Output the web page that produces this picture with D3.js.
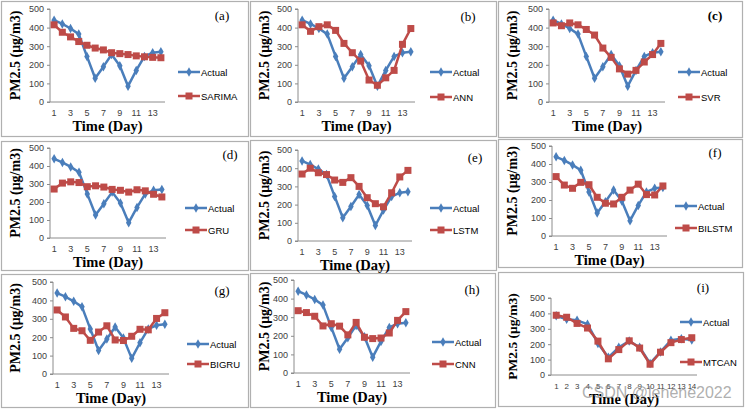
<!DOCTYPE html>
<html><head><meta charset="utf-8">
<script src="https://cdn.jsdelivr.net/npm/d3@7"></script>
<style>body{margin:0;background:#fff}svg{display:block}</style>
</head><body>
<svg id="c" width="750" height="410"></svg>
<script>
// ---- data ----
const days = [1,2,3,4,5,6,7,8,9,10,11,12,13,14];
const yTicks = [0,100,200,300,400,500];
const actual = [440,420,395,365,245,128,190,255,195,85,170,245,265,270];
const actualMTCAN = [385,362,355,330,205,115,180,220,180,75,150,225,235,228];
const sarima = [415,375,350,325,305,290,280,265,260,255,248,243,240,238];
const ann = [415,380,405,415,385,315,265,220,118,90,130,170,310,395];
const svr = [425,410,425,415,390,360,290,240,178,150,170,215,255,315];
const gru = [272,305,312,308,285,290,283,270,265,255,268,262,243,228];
const lstm = [368,400,375,365,335,322,348,300,238,205,188,265,352,388];
const bilstm = [330,283,265,298,285,215,182,178,215,255,288,230,228,278];
const bigru = [348,310,248,235,183,228,262,185,182,205,243,240,302,333];
const cnn = [335,325,305,253,265,252,205,272,192,185,188,215,283,330];
const mtcan = [388,375,335,305,220,105,165,222,175,70,148,210,230,242];
const panelLabels = ["(a)","(b)","(c)","(d)","(e)","(f)","(g)","(h)","(i)"];
const modelNames = ["SARIMA","ANN","SVR","GRU","LSTM","BILSTM","BIGRU","CNN","MTCAN"];
const modelSeries = [sarima,ann,svr,gru,lstm,bilstm,bigru,cnn,mtcan];
const actualSeries = [actual,actual,actual,actual,actual,actual,actual,actual,actualMTCAN];

// ---- layout (positions only) ----
const layout = [
  {box:[1,1,247,135],  x0:50,  x1:165, y0:102, y5:9,   lx:178, ly1:72,  ly2:96,  tx:222, ty:15},
  {box:[250,1,246,135],x0:298, x1:415, y0:102, y5:9,   lx:430, ly1:72,  ly2:97,  tx:468, ty:16},
  {box:[498,1,244,136],x0:549, x1:665, y0:102, y5:9,   lx:678, ly1:72,  ly2:97,  tx:715, ty:15, bold:true},
  {box:[1,141,247,129],x0:50,  x1:166, y0:238, y5:148, lx:185, ly1:208, ly2:230, tx:230, ty:154},
  {box:[250,140,246,130],x0:298,x1:412,y0:241, y5:150, lx:430, ly1:208, ly2:230, tx:475, ty:157},
  {box:[498,139,244,128],x0:552,x1:667,y0:236, y5:146, lx:675, ly1:206, ly2:228, tx:715, ty:152},
  {box:[1,274,247,133],x0:53,  x1:169, y0:374, y5:282, lx:187, ly1:344, ly2:364, tx:222, ty:290},
  {box:[250,273,245,134],x0:294,x1:410,y0:373, y5:280, lx:432, ly1:342, ly2:364, tx:472, ty:289},
  {box:[498,272,245,134],x0:551,x1:697,y0:375, y5:298, lx:680, ly1:322, ly2:362, tx:703, ty:287, allTicks:true}
];

const BLUE = "#4a7ebb", RED = "#be4b48", AXIS = "#8c8c8c", TICKTXT = "#404040";
const svg = d3.select("#c");

layout.forEach((L, i) => {
  const g = svg.append("g");
  g.append("rect").attr("x", L.box[0]+0.5).attr("y", L.box[1]+0.5)
    .attr("width", L.box[2]).attr("height", L.box[3])
    .attr("fill", "#fff").attr("stroke", "#b0b0b0").attr("stroke-width", 1.2);

  const x = d3.scaleBand().domain(days).range([L.x0, L.x1]);
  const xc = d => x(d) + x.bandwidth()/2;
  const y = d3.scaleLinear().domain([0,500]).range([L.y0, L.y5]);

  // y axis
  const yAxis = d3.axisLeft(y).tickValues(yTicks).tickSize(3).tickPadding(3);
  const ya = g.append("g").attr("transform", `translate(${L.x0},0)`).call(yAxis);
  ya.select(".domain").attr("stroke", AXIS).attr("d", `M-3,${L.y5}H0V${L.y0}H-3`);
  ya.selectAll(".tick line").attr("stroke", AXIS);
  ya.selectAll(".tick text").attr("fill", TICKTXT).attr("font-family", "Liberation Sans, Arial, sans-serif").attr("font-size", 9);

  // x axis
  const shown = L.allTicks ? days : days.filter(d => d % 2 === 1);
  const xAxis = d3.axisBottom(x).tickValues(shown).tickSize(0).tickPadding(8);
  const xa = g.append("g").attr("transform", `translate(0,${L.y0})`).call(xAxis);
  xa.select(".domain").attr("stroke", AXIS).attr("d", `M${L.x0},0H${L.x1}`);
  xa.selectAll(".tick text").attr("fill", TICKTXT).attr("font-family", "Liberation Sans, Arial, sans-serif")
    .attr("font-size", L.allTicks ? 8 : 9).attr("letter-spacing", L.allTicks ? -0.4 : 0);

  // axis titles
  g.append("text").attr("transform", `translate(${L.box[0]+14},${(L.y0+L.y5)/2}) rotate(-90)`)
    .attr("text-anchor", "middle").attr("dominant-baseline", "central")
    .attr("font-family", "Liberation Serif, Times New Roman, serif").attr("font-weight", "bold")
    .attr("font-size", i === 8 ? 13.5 : 14).attr("fill", "#000").text("PM2.5 (μg/m3)");
  g.append("text").attr("x", (L.x0+L.x1)/2).attr("y", L.y0 + 29)
    .attr("text-anchor", "middle")
    .attr("font-family", "Liberation Serif, Times New Roman, serif").attr("font-weight", "bold")
    .attr("font-size", 14.5).attr("fill", "#000").text("Time (Day)");

  // panel label
  g.append("text").attr("x", L.tx).attr("y", L.ty).attr("text-anchor", "middle").attr("dominant-baseline", "central")
    .attr("font-family", "Liberation Serif, Times New Roman, serif").attr("font-size", 13)
    .attr("font-weight", L.bold ? "bold" : "normal").attr("fill", "#000").text(panelLabels[i]);

  const line = d3.line().x((d, k) => xc(days[k])).y(d => y(d));
  const diamond = d3.symbol().type(d3.symbolDiamond).size(26);

  g.append("path").datum(actualSeries[i]).attr("d", line).attr("fill", "none")
    .attr("stroke", BLUE).attr("stroke-width", 2.5).attr("stroke-linejoin", "round");
  g.selectAll(null).data(actualSeries[i]).join("path")
    .attr("transform", (d, k) => `translate(${xc(days[k])},${y(d)})`)
    .attr("d", diamond).attr("fill", BLUE);

  g.append("path").datum(modelSeries[i]).attr("d", line).attr("fill", "none")
    .attr("stroke", RED).attr("stroke-width", 2.5).attr("stroke-linejoin", "round");
  g.selectAll(null).data(modelSeries[i]).join("rect")
    .attr("x", (d, k) => xc(days[k]) - 3.5).attr("y", d => y(d) - 3.5)
    .attr("width", 7).attr("height", 7).attr("fill", RED);

  // legend
  const legend = [["Actual", BLUE, L.ly1, "d"], [modelNames[i], RED, L.ly2, "s"]];
  legend.forEach(([name, col, ly, m]) => {
    g.append("line").attr("x1", L.lx).attr("x2", L.lx + 22).attr("y1", ly).attr("y2", ly)
      .attr("stroke", col).attr("stroke-width", 2.5);
    if (m === "d") g.append("path").attr("transform", `translate(${L.lx+11},${ly})`).attr("d", diamond).attr("fill", col);
    else g.append("rect").attr("x", L.lx + 7.5).attr("y", ly - 3.5).attr("width", 7).attr("height", 7).attr("fill", col);
    g.append("text").attr("x", L.lx + 23).attr("y", ly).attr("dominant-baseline", "central")
      .attr("font-family", "Liberation Sans, Arial, sans-serif").attr("font-size", 9.5)
      .attr("fill", "#000").text(name);
  });
});

// watermark
svg.append("text").attr("x", 582).attr("y", 398)
  .attr("font-family", "Liberation Sans, Arial, sans-serif").attr("font-size", 16)
  .attr("fill", "#9a9a9a").attr("fill-opacity", 0.8).text("CSDN @lenene2022");
</script>
</body></html>
